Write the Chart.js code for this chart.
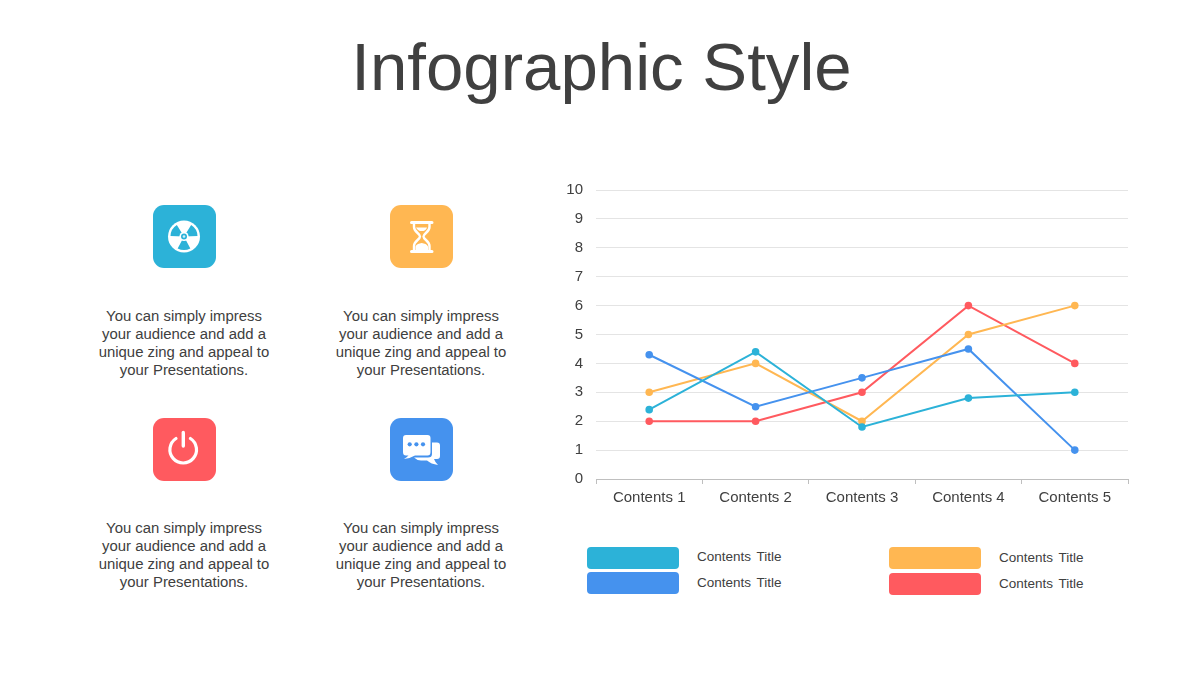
<!DOCTYPE html>
<html>
<head>
<meta charset="utf-8">
<title>Infographic Style</title>
<script src="https://cdn.jsdelivr.net/npm/chart.js@4"></script>
<style>
    html, body { margin: 0; padding: 0; background: #fff; }
    body { width: 1200px; height: 675px; position: relative; overflow: hidden; font-family: "Liberation Sans", Arial, sans-serif; color: #404040; }
    h1 { position: absolute; left: 0; top: 25px; width: 1203px; margin: 0; text-align: center; font-size: 67.2px; line-height: 84px; font-weight: normal; }
    .tile { position: absolute; width: 63px; height: 63px; border-radius: 11px; }
    .tile svg { display: block; width: 63px; height: 63px; }
    .blurb { position: absolute; width: 190px; font-size: 14.9px; line-height: 18px; text-align: center; white-space: nowrap; }
    #chartBox { position: absolute; left: 550px; top: 168px; width: 600px; height: 350px; }
    .swatch { position: absolute; width: 92px; height: 22px; border-radius: 4px; }
    .legendText { position: absolute; font-size: 13.5px; line-height: 18px; word-spacing: 2px; }
</style>
</head>
<body>
<h1>Infographic Style</h1>

<div class="tile" style="left:153px;top:205px;background:#2cb2d8">
    <svg viewBox="0 0 63 63">
        <circle cx="31" cy="31.5" r="16" fill="#fff"/>
        <path d="M31 31.5 L37.34 43.42 A13.5 13.5 0 0 1 24.66 43.42 Z M31 31.5 L17.51 31.03 A13.5 13.5 0 0 1 23.85 20.05 Z M31 31.5 L38.15 20.05 A13.5 13.5 0 0 1 44.49 31.03 Z" fill="#2cb2d8"/>
        <circle cx="31" cy="31.5" r="4.6" fill="#fff"/>
        <circle cx="31" cy="31.5" r="3" fill="#2cb2d8"/>
        <circle cx="31" cy="31.5" r="1.3" fill="#d5f0f8"/>
    </svg>
</div>
<div class="tile" style="left:390px;top:205px;background:#ffb752">
    <svg viewBox="0 0 63 63">
        <path d="M21.5 17.5 H42 M21.5 46.5 H42" stroke="#fff" stroke-width="3" stroke-linecap="round"/>
        <path d="M24 18 V22 C24 27 30 28.5 30 31.5 C30 34.5 24 36 24 41 V46 M39.5 18 V22 C39.5 27 33.5 28.5 33.5 31.5 C33.5 34.5 39.5 36 39.5 41 V46" fill="none" stroke="#fff" stroke-width="2.4"/>
        <path d="M26 22.5 H37 C36.5 24.5 35 25.5 33.5 26 H30 C28.5 25.5 27 24.5 26 22.5 Z M25.5 45 V41.5 C26.5 39 29 38.5 31.7 38 C34.5 38.5 37 39 38 41.5 V45 Z" fill="#fff"/>
    </svg>
</div>
<div class="tile" style="left:153px;top:418px;background:#ff5a5f">
    <svg viewBox="0 0 63 63">
        <path d="M23 20.5 A13.3 13.3 0 1 0 37.4 20.5" fill="none" stroke="#fff" stroke-width="3.2" stroke-linecap="round"/>
        <path d="M30.3 14.5 V28" stroke="#fff" stroke-width="3.4" stroke-linecap="round"/>
    </svg>
</div>
<div class="tile" style="left:390px;top:418px;background:#4592ee">
    <svg viewBox="0 0 63 63">
        <path d="M42 24.5 H47 Q50 24.5 50 27.5 V38 Q50 41 47 41 H44 Q45 44 48 47 Q41 46 37 42.5 H31 Q27 42.5 24 39.5 H38 Q42 39.5 42 36 Z" fill="#fff"/>
        <path d="M16 17 H37.5 Q40.5 17 40.5 20 V34 Q40.5 37.5 37.5 37.5 H25 Q20 40.5 14 41 Q17 39 18.5 37.5 H16 Q13 37.5 13 34 V20 Q13 17 16 17 Z" fill="#fff"/>
        <circle cx="19.7" cy="26.3" r="2.1" fill="#4592ee"/><circle cx="26.4" cy="26.3" r="2.1" fill="#4592ee"/><circle cx="33" cy="26.3" r="2.1" fill="#4592ee"/>
    </svg>
</div>

<div class="blurb" style="left:89px;top:307px">You can simply impress<br>your audience and add a<br>unique zing and appeal to<br>your Presentations.</div>
<div class="blurb" style="left:326px;top:307px">You can simply impress<br>your audience and add a<br>unique zing and appeal to<br>your Presentations.</div>
<div class="blurb" style="left:89px;top:519px">You can simply impress<br>your audience and add a<br>unique zing and appeal to<br>your Presentations.</div>
<div class="blurb" style="left:326px;top:519px">You can simply impress<br>your audience and add a<br>unique zing and appeal to<br>your Presentations.</div>

<div id="chartBox"><canvas id="lineChart" width="600" height="350"></canvas></div>

<div class="swatch" style="left:587px;top:547px;background:#2cb2d8"></div>
<div class="legendText" style="left:697px;top:548px">Contents Title</div>
<div class="swatch" style="left:587px;top:572px;background:#4592ee"></div>
<div class="legendText" style="left:697px;top:574px">Contents Title</div>
<div class="swatch" style="left:889px;top:547px;background:#ffb752"></div>
<div class="legendText" style="left:999px;top:549px">Contents Title</div>
<div class="swatch" style="left:889px;top:573px;background:#ff5a5f"></div>
<div class="legendText" style="left:999px;top:575px">Contents Title</div>

<script>
const categories = ['Contents 1', 'Contents 2', 'Contents 3', 'Contents 4', 'Contents 5'];
const seriesNames = ['Contents Title', 'Contents Title', 'Contents Title', 'Contents Title'];
const cyanValues = [2.4, 4.4, 1.8, 2.8, 3];
const blueValues = [4.3, 2.5, 3.5, 4.5, 1];
const orangeValues = [3, 4, 2, 5, 6];
const redValues = [2, 2, 3, 6, 4];

function lineSet(label, values, color) {
    return {
        label: label,
        data: values,
        borderColor: color,
        backgroundColor: color,
        borderWidth: 2,
        pointRadius: 2.8,
        pointHoverRadius: 2.8,
        tension: 0,
        clip: false
    };
}

new Chart(document.getElementById('lineChart').getContext('2d'), {
    type: 'line',
    data: {
        labels: categories,
        datasets: [
            lineSet(seriesNames[0], cyanValues, '#2cb2d8'),
            lineSet(seriesNames[1], blueValues, '#4592ee'),
            lineSet(seriesNames[2], orangeValues, '#ffb752'),
            lineSet(seriesNames[3], redValues, '#ff5a5f')
        ]
    },
    options: {
        responsive: false,
        animation: false,
        layout: { padding: { top: 10, right: 22, left: 0, bottom: 0 } },
        plugins: { legend: { display: false }, tooltip: { enabled: false } },
        scales: {
            x: {
                offset: true,
                afterFit: scale => { scale.height = 39; },
                border: { color: '#bfbfbf', width: 1 },
                grid: { offset: true, drawOnChartArea: false, drawTicks: true, tickLength: 5, color: '#bfbfbf' },
                ticks: { color: '#404040', font: { family: '"Liberation Sans"', size: 15 }, padding: 4.5, maxRotation: 0 }
            },
            y: {
                min: 0,
                max: 10,
                afterFit: scale => { scale.width = 46; },
                border: { display: false },
                grid: { color: '#e4e4e4', drawTicks: false },
                ticks: { stepSize: 1, color: '#404040', font: { family: '"Liberation Sans"', size: 15 }, padding: 13 }
            }
        }
    }
});
</script>
</body>
</html>
